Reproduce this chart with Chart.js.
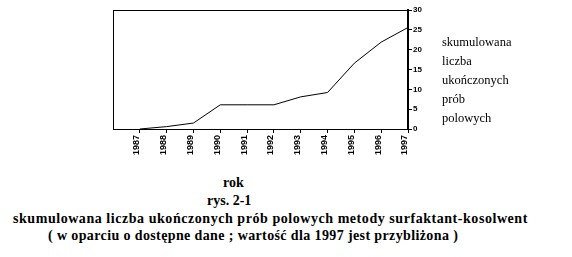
<!DOCTYPE html>
<html>
<head>
<meta charset="utf-8">
<script src="https://cdn.jsdelivr.net/npm/chart.js@4"></script>
<style>
  html, body { margin: 0; padding: 0; background: #fff; }
  #wrap { position: relative; width: 572px; height: 257px; overflow: hidden; }
  #c { position: absolute; left: 0; top: 0; }
  .t { position: absolute; white-space: nowrap; font-family: "Liberation Serif", "Times New Roman", serif; color: #000; }
  .side { left: 442px; top: 33px; font-size: 12.5px; line-height: 19px; }
  .b { font-weight: bold; font-size: 14px; line-height: 18px; }
</style>
</head>
<body>
<div id="wrap">
  <canvas id="c" width="572" height="170"></canvas>
  <div class="t side" id="side"></div>
  <div class="t b" id="l1" style="left:223px; top:174px;"></div>
  <div class="t b" id="l2" style="left:207px; top:192px;"></div>
  <div class="t b" id="l3" style="left:13px; top:210px; letter-spacing:0.55px;"></div>
  <div class="t b" id="l4" style="left:48px; top:227px; letter-spacing:0.38px;"></div>
</div>
<script>
// ---- data ----
const years = [1987, 1988, 1989, 1990, 1991, 1992, 1993, 1994, 1995, 1996, 1997];
const cumulativeTests = [0, 0.6, 1.5, 6.1, 6.1, 6.1, 8.1, 9.2, 16.6, 21.9, 25.6];
const xTickLabels = ["1987", "1988", "1989", "1990", "1991", "1992", "1993", "1994", "1995", "1996", "1997"];
const yTicks = [0, 5, 10, 15, 20, 25, 30];
const sideLabel = ["skumulowana", "liczba", "ukończonych", "prób", "polowych"];
const captionLines = [
  "rok",
  "rys. 2-1",
  "skumulowana liczba ukończonych prób polowych metody surfaktant-kosolwent",
  "( w oparciu o dostępne dane ; wartość dla 1997 jest przybliżona )"
];

document.getElementById('side').innerHTML = sideLabel.join('<br>');
['l1','l2','l3','l4'].forEach((id, i) => { document.getElementById(id).textContent = captionLines[i]; });

const points = years.map((y, i) => ({ x: y, y: cumulativeTests[i] }));

new Chart(document.getElementById('c'), {
  type: 'line',
  data: {
    datasets: [{
      data: points,
      borderColor: '#000',
      borderWidth: 1,
      pointRadius: 0,
      tension: 0,
      fill: false
    }]
  },
  options: {
    responsive: false,
    animation: false,
    events: [],
    layout: { padding: { left: 113, top: 10, right: 134, bottom: 0 } },
    plugins: { legend: { display: false }, tooltip: { enabled: false }, title: { display: false } },
    scales: {
      x: {
        type: 'linear',
        position: 'bottom',
        min: 1986,
        max: 1997,
        afterBuildTicks: (s) => { s.ticks = years.map(v => ({ value: v })); },
        afterFit: (s) => { s.height = 41; },
        ticks: {
          color: '#000',
          font: { family: 'Liberation Sans', size: 9, weight: 'bold' },
          minRotation: 90,
          maxRotation: 90,
          autoSkip: false,
          padding: 2,
          labelOffset: -3,
          callback: (v) => { const i = years.indexOf(v); return i >= 0 ? xTickLabels[i] : ''; }
        },
        grid: { drawOnChartArea: false, drawTicks: true, tickLength: 4, color: '#000' },
        border: { display: true, color: '#000', width: 1 }
      },
      xTop: {
        type: 'linear',
        position: 'top',
        min: 1986,
        max: 1997,
        afterFit: (s) => { s.height = 0; },
        ticks: { display: false },
        grid: { display: false },
        border: { display: true, color: '#000', width: 1 }
      },
      y: {
        position: 'right',
        min: 0,
        max: 30,
        afterBuildTicks: (s) => { s.ticks = yTicks.map(v => ({ value: v })); },
        afterFit: (s) => { s.width = 30; },
        ticks: {
          color: '#000',
          font: { family: 'Liberation Sans', size: 8, weight: 'bold' },
          padding: 1
        },
        grid: { drawOnChartArea: false, drawTicks: true, tickLength: 4, color: '#000' },
        border: { display: true, color: '#000', width: 2 }
      },
      yLeft: {
        position: 'left',
        min: 0,
        max: 30,
        afterFit: (s) => { s.width = 0; },
        ticks: { display: false },
        grid: { display: false },
        border: { display: true, color: '#000', width: 1 }
      }
    }
  }
});
</script>
</body>
</html>
